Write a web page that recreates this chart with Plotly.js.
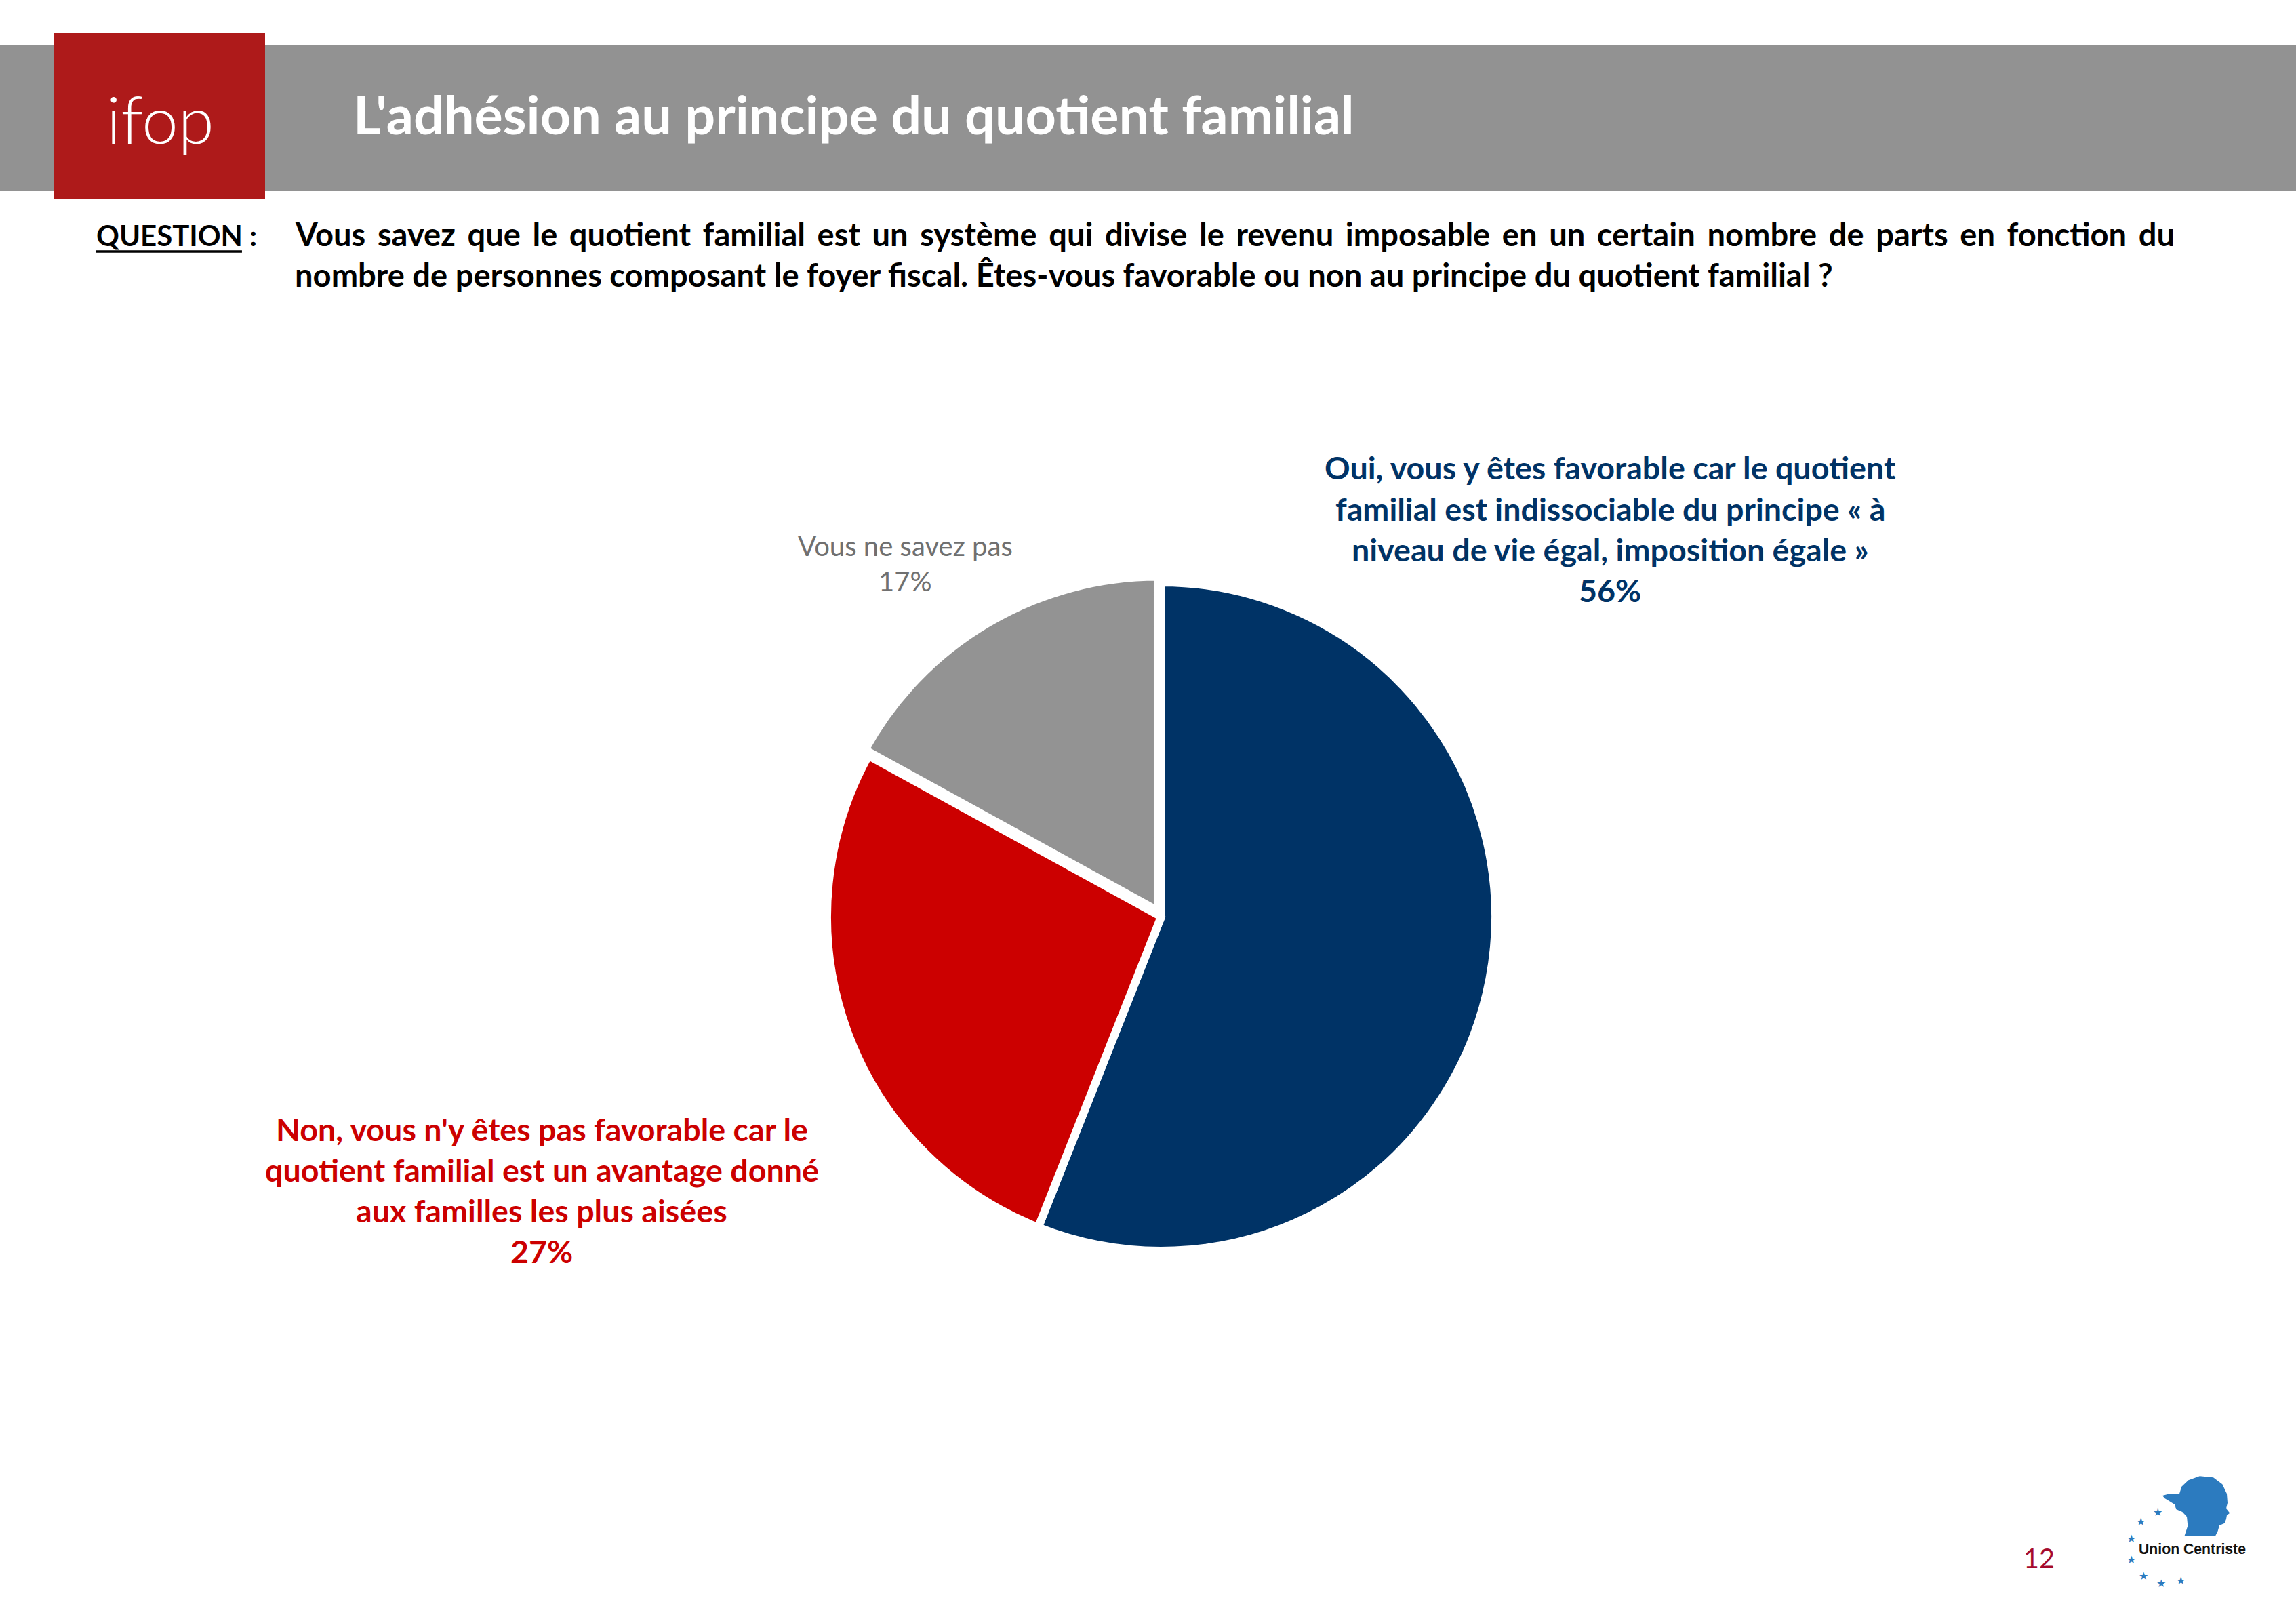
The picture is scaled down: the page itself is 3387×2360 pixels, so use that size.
<!DOCTYPE html>
<html>
<head>
<meta charset="utf-8">
<script src="https://cdn.plot.ly/plotly-3.0.1.min.js"></script>
<style>
html,body{margin:0;padding:0;background:#ffffff;}
#chart{width:3387px;height:2360px;}
</style>
</head>
<body>
<div id="chart"></div>
<script>
// ---------------- DATA ----------------
const labelLines = [
  ["Oui, vous y êtes favorable car le quotient", "familial est indissociable du principe « à", "niveau de vie égal, imposition égale »"],
  ["Non, vous n'y êtes pas favorable car le", "quotient familial est un avantage donné", "aux familles les plus aisées"],
  ["Vous ne savez pas"]
];
const categories = labelLines.map(l => l.join(" "));
const values = [56, 27, 17];
const titleText = "L'adhésion au principe du quotient familial";
const questionLabel = "QUESTION :";
const questionUnderlined = "QUESTION";
const questionLines = [
  "Vous savez que le quotient familial est un système qui divise le revenu imposable en un certain nombre de parts en fonction du",
  "nombre de personnes composant le foyer fiscal. Êtes-vous favorable ou non au principe du quotient familial ?"
];
const pageNumber = "12";
const logoText = "ifop";
const partnerText = "Union Centriste";

// ---------------- STYLE ----------------
const sliceColors = ["#003366", "#CC0000", "#939393"];
const labelColors = ["#003366", "#CC0000", "#707070"];
const W = 3387, H = 2360;
const FONT = "Lato";

const cv = document.createElement("canvas").getContext("2d");
function measure(text, family, weight, size) {
  cv.font = weight + " " + size + "px \"" + family + "\"";
  return cv.measureText(text);
}
function fit(text, family, weight, target) {
  return 100 * target / measure(text, family, weight, 100).width;
}
function centerOffset(family, weight, size) {
  const m = measure("Hg", family, weight, size);
  return (m.fontBoundingBoxAscent - m.fontBoundingBoxDescent) / 2;
}
const PX = x => x / W;
const PY = y => 1 - y / H;

const annotations = [];
function addText(text, x, baseline, o) {
  const weight = o.weight || 400;
  const yc = baseline - centerOffset(o.family, weight, o.size);
  annotations.push({
    text: text, x: PX(x), y: PY(yc), xref: "paper", yref: "paper",
    xanchor: o.anchor || "center", yanchor: "middle", showarrow: false,
    align: o.anchor || "center",
    borderpad: 0,
    font: {family: o.family, size: o.size, color: o.color, weight: weight}
  });
  return annotations.length - 1;
}

// font sizes fitted to the widths measured on the reference
const titleSize = fit(titleText, FONT, 700, 1477);
const qSize = fit(questionLines[1], FONT, 700, 2270);
const qLabelSize = fit(questionUnderlined, FONT, 700, 216);
const labelSize = (fit(labelLines[0][0], FONT, 700, 842) + fit(labelLines[1][1], FONT, 700, 822)) / 2;
const graySize = fit(labelLines[2][0], FONT, 400, 317);
const pageSize = fit(pageNumber, FONT, 400, 46);
const partnerSize = fit(partnerText, "Liberation Sans", 700, 158);
const logoSize = Math.min(fit(logoText, FONT, 300, 212), 96);

// ifop logo text
addText(logoText, 236, 212, {family: FONT, weight: 300, size: logoSize, color: "#ffffff"});

// question
addText(questionLabel, 141, 363, {family: FONT, weight: 700, size: qLabelSize, color: "#000000", anchor: "left"});
const q1Index = addText(questionLines[0], 434, 363, {family: FONT, weight: 700, size: qSize, color: "#000000", anchor: "left"});
addText(questionLines[1], 434, 423, {family: FONT, weight: 700, size: qSize, color: "#000000", anchor: "left"});
const underlineW = measure(questionUnderlined, FONT, 700, qLabelSize).width;
// justification of the first question line (left 434 -> right 3206)
const q1Natural = measure(questionLines[0], FONT, 700, qSize).width;
const q1Gaps = questionLines[0].split(" ").length - 1;
const q1WordSpacing = Math.max(0, (3206 - 434 - q1Natural) / q1Gaps);

// slice labels
const labelPos = [
  {x: 2375, base: [707, 768, 828, 888], size: labelSize, weight: 700},
  {x: 799, base: [1683, 1743, 1803, 1863], size: labelSize, weight: 700},
  {x: 1335, base: [820, 872], size: graySize, weight: 400}
];
labelLines.forEach((lines, i) => {
  const p = labelPos[i];
  const all = lines.concat([values[i] + "%"]);
  all.forEach((t, k) => addText(t, p.x, p.base[k], {family: FONT, weight: p.weight, size: p.size, color: labelColors[i]}));
});

// page number
addText(pageNumber, 3008, 2313, {family: FONT, weight: 400, size: pageSize, color: "#A50A2D"});
// partner logo text
addText(partnerText, 3234, 2292, {family: "Liberation Sans", weight: 700, size: partnerSize, color: "#111111"});
// stars
const starPts = [[850,240],[775,283],[732,358],[732,450],[787,522],[865,555],[952,543]];
starPts.forEach(p => {
  const x = p[0] / 3 + 2900, y = p[1] / 3 + 2150;
  annotations.push({text: "★", x: PX(x), y: PY(y), xref: "paper", yref: "paper", xanchor: "center", yanchor: "middle",
    showarrow: false, borderpad: 0, font: {family: "DejaVu Sans", size: 16, color: "#2C7BBF"}});
});

// head silhouette path
const headPts = [[870,168],[900,160],[945,160],[955,128],[985,100],[1035,82],[1095,88],[1135,118],[1155,160],[1158,200],[1152,225],[1168,245],[1155,255],[1152,272],[1145,290],[1122,300],[1115,325],[1105,345],[968,345],[982,302],[978,262],[958,240],[930,228],[925,208],[900,192],[880,180]];
const headPath = headPts.map((p, i) => (i ? "L" : "M") + PX(p[0] / 3 + 2900).toFixed(5) + "," + PY(p[1] / 3 + 2150).toFixed(5)).join(" ") + " Z";

const shapes = [
  {type: "rect", xref: "paper", yref: "paper", x0: 0, x1: 1, y0: PY(281), y1: PY(67), fillcolor: "#929292", line: {width: 0}, layer: "below"},
  {type: "rect", xref: "paper", yref: "paper", x0: PX(80), x1: PX(391), y0: PY(294), y1: PY(48), fillcolor: "#AE1A1A", line: {width: 0}, layer: "below"},
  {type: "line", xref: "paper", yref: "paper", x0: PX(141), x1: PX(141 + underlineW), y0: PY(371), y1: PY(371), line: {color: "#000000", width: 3.5}},
  {type: "path", xref: "paper", yref: "paper", path: headPath, fillcolor: "#2C7BBF", line: {width: 0}}
];

// pie geometry
const cx = 1713, cy = 1352, rVis = 487, lineW = 12, maxPull = 0.02;
const half = (rVis + lineW / 2) * (1 + maxPull);

const trace = {
  type: "pie",
  values: values,
  labels: categories,
  sort: false,
  direction: "clockwise",
  rotation: 0,
  pull: [0, 0, maxPull],
  textinfo: "none",
  hoverinfo: "none",
  showlegend: false,
  marker: {colors: sliceColors, line: {color: "#ffffff", width: lineW}},
  domain: {x: [PX(cx - half), PX(cx + half)], y: [PY(cy + half), PY(cy - half)]}
};

const titleY = 201 - centerOffset(FONT, 700, titleSize);
const layout = {
  width: W, height: H,
  margin: {l: 0, r: 0, t: 0, b: 0, pad: 0},
  paper_bgcolor: "#ffffff",
  plot_bgcolor: "#ffffff",
  showlegend: false,
  title: {text: titleText, x: PX(521), xanchor: "left", xref: "paper", y: PY(titleY), yanchor: "middle", yref: "paper",
    font: {family: FONT, size: titleSize, color: "#ffffff", weight: 700}},
  shapes: shapes,
  annotations: annotations
};

Plotly.newPlot("chart", [trace], layout, {displayModeBar: false, staticPlot: true}).then(gd => {
  const el = gd.querySelector('.annotation[data-index="' + q1Index + '"] text.annotation-text');
  if (el) {
    const x0 = el.getBBox().x;
    el.style.wordSpacing = q1WordSpacing + "px";
    // keep the left edge in place after spacing
    const dx = x0 - el.getBBox().x;
    if (Math.abs(dx) > 0.5) {
      const cur = parseFloat(el.getAttribute("x") || "0");
      el.setAttribute("x", cur + dx);
      el.querySelectorAll("tspan[x]").forEach(t => t.setAttribute("x", parseFloat(t.getAttribute("x")) + dx));
    }
  }
});
</script>
</body>
</html>
